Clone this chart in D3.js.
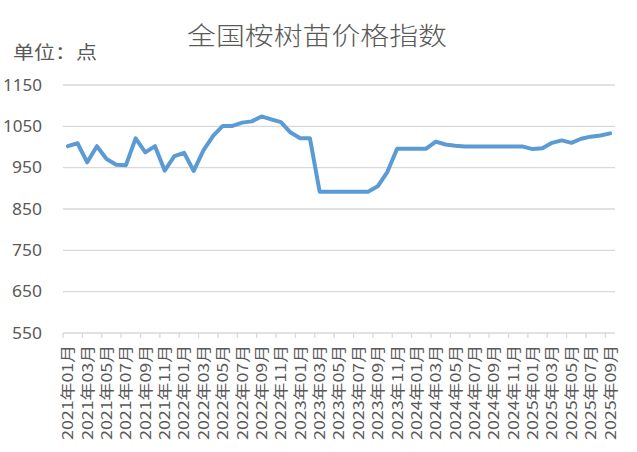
<!DOCTYPE html>
<html>
<head>
<meta charset="utf-8">
<script src="https://cdn.jsdelivr.net/npm/d3@7"></script>
<style>
  body { margin: 0; background: #fff; }
  text { font-family: "Noto Sans CJK SC", "Noto Sans", sans-serif; fill: #595959; }
</style>
</head>
<body>
<div id="vis"></div>
<script>
var months = [
  "2021年01月", "2021年02月", "2021年03月", "2021年04月", "2021年05月", "2021年06月",
  "2021年07月", "2021年08月", "2021年09月", "2021年10月", "2021年11月", "2021年12月",
  "2022年01月", "2022年02月", "2022年03月", "2022年04月", "2022年05月", "2022年06月",
  "2022年07月", "2022年08月", "2022年09月", "2022年10月", "2022年11月", "2022年12月",
  "2023年01月", "2023年02月", "2023年03月", "2023年04月", "2023年05月", "2023年06月",
  "2023年07月", "2023年08月", "2023年09月", "2023年10月", "2023年11月", "2023年12月",
  "2024年01月", "2024年02月", "2024年03月", "2024年04月", "2024年05月", "2024年06月",
  "2024年07月", "2024年08月", "2024年09月", "2024年10月", "2024年11月", "2024年12月",
  "2025年01月", "2025年02月", "2025年03月", "2025年04月", "2025年05月", "2025年06月",
  "2025年07月", "2025年08月", "2025年09月"
];

var index_values = [
  1002, 1009, 963, 1002, 971, 957, 956, 1021, 987, 1002, 943, 978,
  986, 942, 992, 1027, 1051, 1051, 1059, 1062, 1074, 1067, 1060, 1035,
  1021, 1021, 892, 892, 892, 892, 892, 892, 905, 940, 996, 996,
  996, 996, 1013, 1006, 1003, 1001, 1001, 1001, 1001, 1001, 1001, 1001,
  995, 997, 1010, 1016, 1010, 1020, 1025, 1028, 1033
];

var y_ticks = [550, 650, 750, 850, 950, 1050, 1150];
var title = "全国桉树苗价格指数";
var unit_label = "单位：点";

var width = 637, height = 452;
var scales = {
  month: d3.scaleBand().domain(months).range([63, 615]).padding(0),
  value: d3.scaleLinear().domain([550, 1150]).range([333, 85])
};

var svg = d3.select("#vis")
  .append("svg")
  .attr("width", width)
  .attr("height", height);

// gridlines
svg.append("g")
  .selectAll("line")
  .data(y_ticks)
  .enter()
  .append("line")
  .attr("x1", scales.month.range()[0])
  .attr("x2", scales.month.range()[1])
  .attr("y1", function(d) { return scales.value(d); })
  .attr("y2", function(d) { return scales.value(d); })
  .attr("stroke", "#D9D9D9")
  .attr("stroke-width", 1.3);

// y axis labels
var y_axis = d3.axisLeft(scales.value)
  .tickValues(y_ticks)
  .tickFormat(d3.format("d"))
  .tickSize(0)
  .tickPadding(0);
svg.append("g")
  .attr("class", "y_axis")
  .attr("transform", "translate(42,0)")
  .call(y_axis)
  .call(function(g) { g.select(".domain").remove(); })
  .selectAll("text")
  .attr("font-size", 16)
  .attr("fill", "#595959")
  .attr("textLength", function(d) { return d >= 1000 ? 39 : 30; })
  .attr("lengthAdjust", "spacingAndGlyphs")
  .style("font-family", "'Noto Sans', sans-serif");

// x axis: label every other month
var label_months = months.filter(function(d, i) { return i % 2 === 0; });
var x_axis = d3.axisBottom(scales.month)
  .tickValues(label_months)
  .tickSize(0);
var xg = svg.append("g")
  .attr("class", "x_axis")
  .attr("transform", "translate(0," + scales.value.range()[0] + ")")
  .call(x_axis);
xg.select(".domain").remove();
xg.selectAll("text")
  .attr("transform", "rotate(-90)")
  .attr("text-anchor", "end")
  .attr("x", -12)
  .attr("y", 0)
  .attr("dy", "0.36em")
  .attr("font-size", 15)
  .attr("fill", "#595959")
  .attr("textLength", 95)
  .attr("lengthAdjust", "spacingAndGlyphs")
  .style("font-family", "'Noto Sans CJK SC', sans-serif");

// tick marks between label pairs
svg.append("g")
  .selectAll("line")
  .data(label_months)
  .enter()
  .append("line")
  .attr("x1", function(d) { return scales.month(d); })
  .attr("x2", function(d) { return scales.month(d); })
  .attr("y1", scales.value.range()[0])
  .attr("y2", scales.value.range()[0] + 5)
  .attr("stroke", "#D9D9D9")
  .attr("stroke-width", 1.3);

// the series
var line = d3.line()
  .x(function(d, i) { return scales.month(months[i]) + scales.month.bandwidth() / 2; })
  .y(function(d) { return scales.value(d); });
svg.append("path")
  .datum(index_values)
  .attr("d", line)
  .attr("fill", "none")
  .attr("stroke", "#5B9BD5")
  .attr("stroke-width", 4)
  .attr("stroke-linejoin", "round")
  .attr("stroke-linecap", "round");

// title and unit
svg.append("text")
  .attr("x", 317)
  .attr("y", 45)
  .attr("text-anchor", "middle")
  .attr("font-size", 25)
  .attr("font-weight", 300)
  .attr("textLength", 260)
  .attr("lengthAdjust", "spacingAndGlyphs")
  .text(title);

svg.append("text")
  .attr("x", 13)
  .attr("y", 59)
  .attr("font-size", 18)
  .attr("textLength", 84)
  .attr("lengthAdjust", "spacingAndGlyphs")
  .text(unit_label);
</script>
</body>
</html>
